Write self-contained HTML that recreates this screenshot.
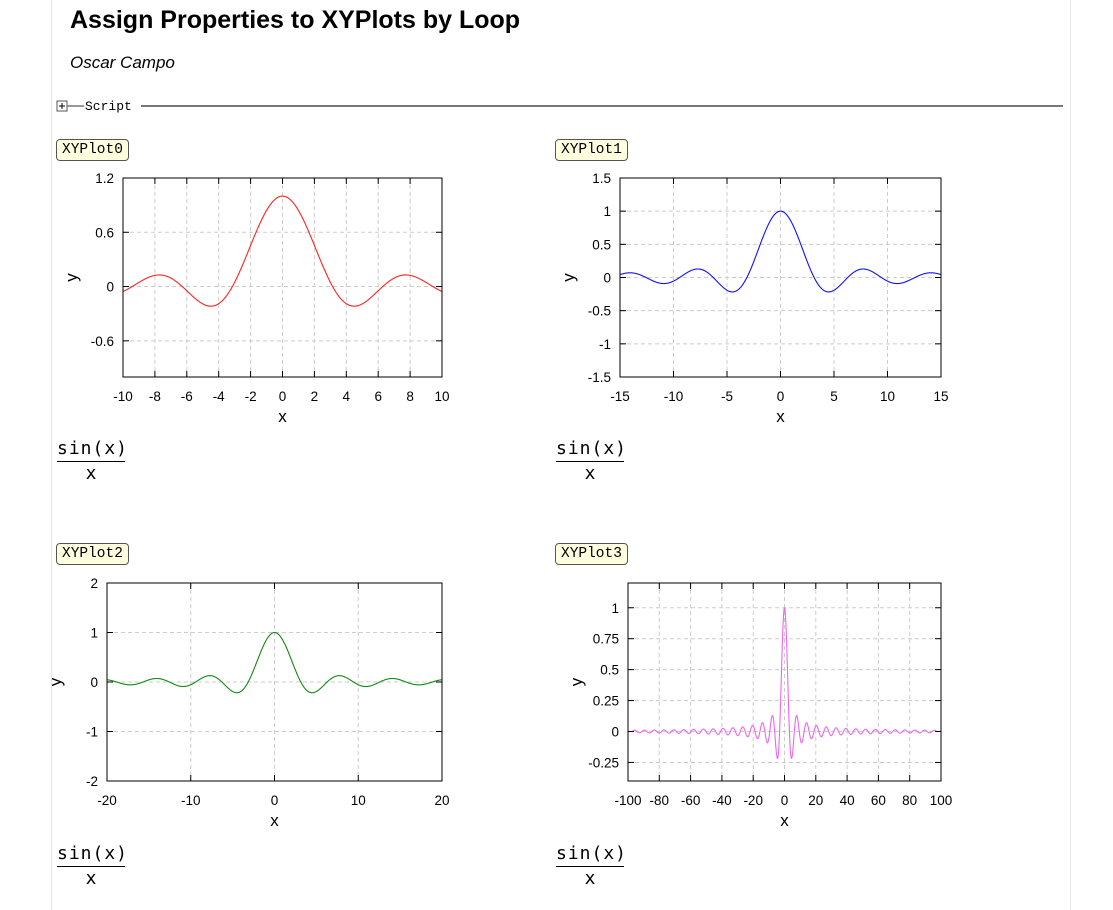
<!DOCTYPE html>
<html><head><meta charset="utf-8"><style>
body{margin:0;background:#fff;width:1113px;height:910px;overflow:hidden;font-family:"Liberation Sans",sans-serif;position:relative}
.pg{position:absolute;left:51px;top:0;width:1018px;height:910px;border-left:1px solid #e4e4e4;border-right:1px solid #e4e4e4}
h1{position:absolute;left:70px;top:6px;margin:0;font-size:25px;font-weight:bold}
.au{position:absolute;left:70px;top:53px;font-size:17px;font-style:italic}
.lab{position:absolute;height:20px;padding:0 5px;line-height:20px;background:#ffffe0;border:1px solid #555;border-radius:4px;font-family:"Liberation Mono",monospace;font-size:14.5px}
.fr{position:absolute;font-family:"DejaVu Sans Mono","Liberation Mono",monospace;font-size:18px;text-align:center;width:68px}
.fr .n{border-bottom:1.5px solid #000;padding-bottom:2px;letter-spacing:1px}
.fr .d{padding-top:1px}
svg{position:absolute;left:0;top:0}
</style></head><body>
<div class="pg"></div>
<h1>Assign Properties to XYPlots by Loop</h1>
<div class="au">Oscar Campo</div>
<div class="lab" style="left:56px;top:139px">XYPlot0</div>
<div class="lab" style="left:555px;top:139px">XYPlot1</div>
<div class="lab" style="left:56px;top:543px">XYPlot2</div>
<div class="lab" style="left:555px;top:543px">XYPlot3</div>
<div class="fr" style="left:57px;top:438px"><div class="n">sin(x)</div><div class="d">x</div></div>
<div class="fr" style="left:556px;top:438px"><div class="n">sin(x)</div><div class="d">x</div></div>
<div class="fr" style="left:57px;top:843px"><div class="n">sin(x)</div><div class="d">x</div></div>
<div class="fr" style="left:556px;top:843px"><div class="n">sin(x)</div><div class="d">x</div></div>
<svg id="s" width="1113" height="910" font-family="Liberation Sans, sans-serif" font-size="13.5">
<rect x="57" y="101" width="10" height="10" fill="#fff" stroke="#555"/>
<path d="M59 106h6M62 103v6" stroke="#000"/>
<line x1="67" y1="106" x2="84" y2="106" stroke="#777" stroke-width="1.5"/>
<text x="85" y="110" font-family="Liberation Mono, monospace" font-size="13">Script</text>
<line x1="141" y1="106" x2="1063" y2="106" stroke="#777" stroke-width="2"/>
</svg>
<script>
var s=document.getElementById('s'),NS='http://www.w3.org/2000/svg';
function el(t,a,txt){var e=document.createElementNS(NS,t);for(var k in a)e.setAttribute(k,a[k]);if(txt!=null)e.textContent=txt;s.appendChild(e);return e;}
function plot(L,T,R,B,x0,x1,y0,y1,xt,yt,col,cx0,cx1){
 var X=function(v){return L+(v-x0)/(x1-x0)*(R-L)},Y=function(v){return B-(v-y0)/(y1-y0)*(B-T)};
 xt.forEach(function(v){var px=X(v);if(px>L+1&&px<R-1)el('line',{x1:px,y1:T,x2:px,y2:B,stroke:'#ccc','stroke-dasharray':'4,3'});
  if(px>L+1&&px<R-1){el('line',{x1:px,y1:T,x2:px,y2:T+6,stroke:'#000'});el('line',{x1:px,y1:B,x2:px,y2:B-6,stroke:'#000'});}
  el('text',{x:px,y:B+24,'text-anchor':'middle'},String(v));});
 yt.forEach(function(v){var py=Y(v);if(py>T+1&&py<B-1){el('line',{x1:L,y1:py,x2:R,y2:py,stroke:'#ccc','stroke-dasharray':'4,3'});
  el('line',{x1:L,y1:py,x2:L+6,y2:py,stroke:'#000'});el('line',{x1:R,y1:py,x2:R-6,y2:py,stroke:'#000'});}
  el('text',{x:L-9,y:py+5,'text-anchor':'end'},String(v));});
 var d='';for(var i=0;i<=2000;i++){var x=cx0+(cx1-cx0)*i/2000;var y=x==0?1:Math.sin(x)/x;d+=(i?'L':'M')+X(x).toFixed(2)+' '+Y(y).toFixed(2);}
 el('path',{d:d,fill:'none',stroke:col,'stroke-width':1.1});
 el('rect',{x:L,y:T,width:R-L,height:B-T,fill:'none',stroke:'#000'});
 el('text',{x:(L+R)/2,y:B+45,'text-anchor':'middle','font-size':17},'x');
 var yx=L-46,yy=(T+B)/2;el('text',{x:yx,y:yy,'text-anchor':'middle','font-size':17,transform:'rotate(-90 '+yx+' '+yy+')'},'y');
}
plot(123,178,442,377,-10,10,-1,1.2,[-10,-8,-6,-4,-2,0,2,4,6,8,10],[1.2,0.6,0,-0.6],'#ff2020',-10,10);
plot(620,178,941,377,-15,15,-1.5,1.5,[-15,-10,-5,0,5,10,15],[1.5,1,0.5,0,-0.5,-1,-1.5],'#1010ff',-15,15);
plot(107,583,442,781,-20,20,-2,2,[-20,-10,0,10,20],[2,1,0,-1,-2],'#118811',-20,20);
plot(628,583,941,781,-100,100,-0.4,1.2,[-100,-80,-60,-40,-20,0,20,40,60,80,100],[1,0.75,0.5,0.25,0,-0.25],'#ee66ee',-97,97);
</script>
</body></html>
